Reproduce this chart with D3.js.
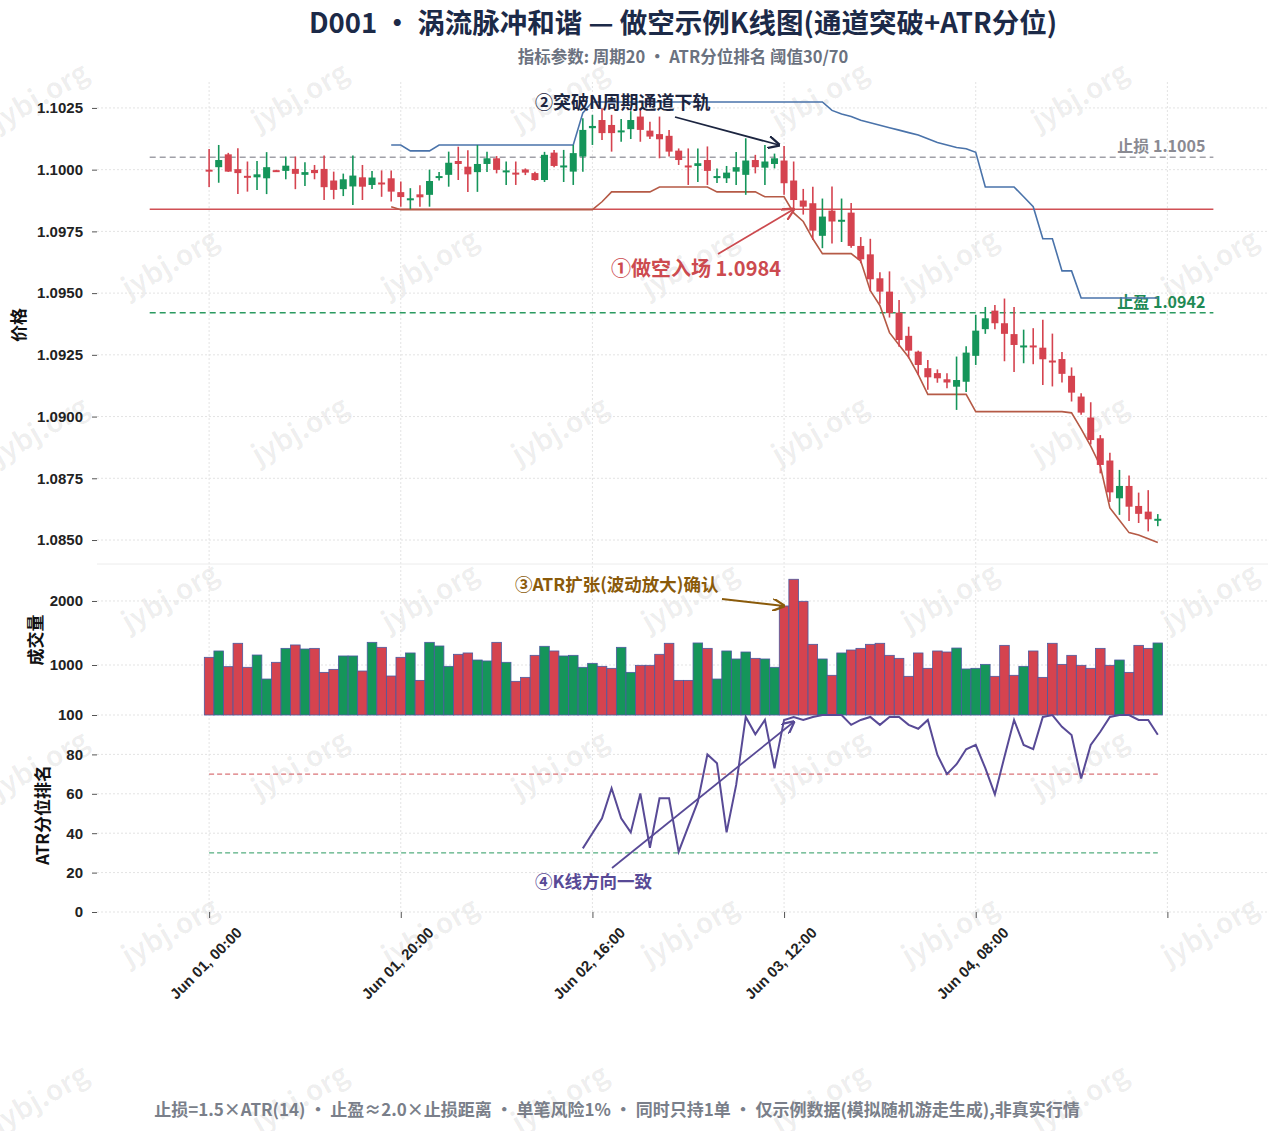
<!DOCTYPE html>
<html><head><meta charset="utf-8">
<script src="https://cdn.jsdelivr.net/npm/d3@7"></script>
<style>body{margin:0;background:#fff}svg{font-family:"Noto Sans CJK SC","Noto Sans",sans-serif}</style>
</head><body><svg id="c" width="1278" height="1131"></svg>
<script>
const opens=[1.10000,1.10010,1.10062,1.10002,1.09975,1.09969,1.09965,1.09998,1.09995,1.10003,1.09979,1.09999,1.10003,1.09956,1.09921,1.09932,1.09969,1.09938,1.09948,1.09965,1.09909,1.09880,1.09900,1.09898,1.09970,1.09979,1.10035,1.10012,1.09990,1.10023,1.10046,1.09993,1.09988,1.10001,1.09986,1.09958,1.10069,1.10013,1.09992,1.10053,1.10168,1.10201,1.10181,1.10155,1.10164,1.10215,1.10158,1.10144,1.10137,1.10077,1.10017,1.10015,1.10039,1.09970,1.09965,1.09992,1.09979,1.10039,1.10008,1.10023,1.10037,1.09956,1.09875,1.09864,1.09732,1.09834,1.09793,1.09826,1.09691,1.09657,1.09560,1.09506,1.09421,1.09327,1.09263,1.09196,1.09176,1.09151,1.09121,1.09141,1.09246,1.09354,1.09429,1.09378,1.09334,1.09284,1.09288,1.09279,1.09227,1.09233,1.09165,1.09081,1.08996,1.08912,1.08822,1.08669,1.08719,1.08638,1.08615,1.08582];
const highs=[1.10084,1.10100,1.10068,1.10087,1.10033,1.10035,1.10071,1.10000,1.10053,1.10053,1.10030,1.10019,1.10057,1.09992,1.09984,1.10057,1.10019,1.09995,1.09997,1.09997,1.09952,1.09925,1.09937,1.10000,1.09990,1.10073,1.10093,1.10079,1.10100,1.10073,1.10055,1.10033,1.10033,1.10005,1.09992,1.10072,1.10080,1.10080,1.10100,1.10208,1.10222,1.10249,1.10222,1.10205,1.10237,1.10249,1.10194,1.10215,1.10161,1.10086,1.10086,1.10086,1.10094,1.10005,1.10015,1.10072,1.10127,1.10060,1.10100,1.10065,1.10096,1.10033,1.09922,1.09931,1.09883,1.09932,1.09883,1.09865,1.09727,1.09720,1.09584,1.09588,1.09472,1.09364,1.09267,1.09229,1.09191,1.09175,1.09243,1.09285,1.09412,1.09444,1.09452,1.09478,1.09444,1.09352,1.09358,1.09392,1.09336,1.09262,1.09199,1.09094,1.09058,1.08925,1.08853,1.08784,1.08761,1.08692,1.08702,1.08605];
const lows=[1.09930,1.09947,1.09991,1.09901,1.09911,1.09918,1.09901,1.09993,1.09961,1.09921,1.09934,1.09961,1.09877,1.09880,1.09893,1.09857,1.09877,1.09922,1.09890,1.09871,1.09850,1.09840,1.09850,1.09850,1.09956,1.09931,1.09958,1.09910,1.09910,1.09991,1.09985,1.09938,1.09938,1.09978,1.09955,1.09950,1.10010,1.09950,1.09938,1.09992,1.10100,1.10120,1.10073,1.10113,1.10124,1.10113,1.10124,1.10046,1.10053,1.10019,1.09938,1.09950,1.09938,1.09946,1.09946,1.09938,1.09898,1.09985,1.09938,1.10005,1.09898,1.09837,1.09818,1.09715,1.09682,1.09701,1.09707,1.09684,1.09621,1.09508,1.09457,1.09401,1.09283,1.09236,1.09168,1.09109,1.09137,1.09115,1.09027,1.09100,1.09209,1.09335,1.09354,1.09224,1.09180,1.09216,1.09212,1.09128,1.09122,1.09138,1.09061,1.09007,1.08887,1.08770,1.08654,1.08602,1.08577,1.08569,1.08535,1.08556];
const closes=[1.09996,1.10039,1.09992,1.09986,1.09970,1.09981,1.10010,1.09995,1.10016,1.09983,1.09990,1.09986,1.09929,1.09918,1.09961,1.09976,1.09931,1.09968,1.09945,1.09911,1.09889,1.09884,1.09888,1.09954,1.09974,1.10028,1.10023,1.09981,1.10023,1.10046,1.09999,1.09997,1.09982,1.09988,1.09958,1.10060,1.10015,1.10017,1.10067,1.10161,1.10177,1.10148,1.10148,1.10159,1.10201,1.10161,1.10134,1.10123,1.10073,1.10039,1.10012,1.10026,1.09995,1.09974,1.09988,1.10010,1.10037,1.10010,1.10033,1.10046,1.09945,1.09877,1.09850,1.09753,1.09810,1.09790,1.09797,1.09691,1.09637,1.09556,1.09506,1.09419,1.09310,1.09267,1.09209,1.09159,1.09155,1.09138,1.09148,1.09259,1.09348,1.09398,1.09378,1.09335,1.09290,1.09288,1.09283,1.09232,1.09222,1.09173,1.09097,1.09016,1.08905,1.08804,1.08693,1.08719,1.08635,1.08606,1.08584,1.08586];
const volumes=[1120,1219,974,1339,964,1156,781,1042,1260,1313,1250,1260,885,932,1141,1141,906,1354,1276,828,1120,1188,760,1354,1297,979,1167,1188,1078,1063,1354,1042,745,807,1151,1292,1219,1141,1151,964,1026,979,948,1276,885,995,995,1167,1339,760,760,1344,1260,781,1219,1094,1203,1104,1094,964,1922,2339,1995,1323,1094,839,1188,1234,1260,1323,1339,1151,1104,823,1188,948,1219,1203,1265,938,948,1010,823,1307,839,979,1219,807,1339,1010,1151,995,948,1260,995,1078,885,1307,1260,1344];
const atrRank=[null,null,null,null,null,null,null,null,null,null,null,null,null,null,null,null,null,null,null,null,null,null,null,null,null,null,null,null,null,null,null,null,null,null,null,null,null,null,null,32.3,40,47.6,62.8,47.6,40.4,60.2,32.6,57.7,57.7,30.6,43.3,56,80,75.5,40.4,64.5,99,90.2,97.5,73,97.5,99,97.5,99,100,100,100,95,97.5,99,95,99,99,95,93,97.5,79.7,70,75,82.6,84.8,73,59.7,78.8,97.5,84.8,82.7,99,100,94,89.8,67.8,84.8,91.5,99,100,100,97.5,97.5,90];
const chanUpper=[null,null,null,null,null,null,null,null,null,null,null,null,null,null,null,null,null,null,null,1.10100,1.10100,1.10076,1.10076,1.10076,1.10100,1.10100,1.10100,1.10100,1.10100,1.10100,1.10100,1.10100,1.10100,1.10100,1.10100,1.10100,1.10100,1.10100,1.10100,1.10230,1.10274,1.10274,1.10274,1.10274,1.10274,1.10274,1.10274,1.10274,1.10274,1.10274,1.10274,1.10274,1.10274,1.10274,1.10274,1.10274,1.10274,1.10274,1.10274,1.10274,1.10274,1.10274,1.10274,1.10274,1.10274,1.10240,1.10225,1.10215,1.10200,1.10190,1.10180,1.10170,1.10160,1.10150,1.10140,1.10125,1.10110,1.10100,1.10090,1.10085,1.10070,1.09930,1.09930,1.09930,1.09930,1.09890,1.09850,1.09720,1.09720,1.09590,1.09590,1.09480,1.09480,1.09480,1.09480,1.09480,1.09480,1.09480,1.09480,1.09480];
const chanLower=[null,null,null,null,null,null,null,null,null,null,null,null,null,null,null,null,null,null,null,1.09850,1.09838,1.09838,1.09838,1.09838,1.09838,1.09838,1.09838,1.09838,1.09838,1.09838,1.09838,1.09838,1.09838,1.09838,1.09838,1.09838,1.09838,1.09838,1.09838,1.09838,1.09838,1.09870,1.09910,1.09910,1.09910,1.09910,1.09910,1.09930,1.09930,1.09930,1.09930,1.09930,1.09930,1.09910,1.09910,1.09910,1.09910,1.09910,1.09890,1.09890,1.09890,1.09825,1.09790,1.09720,1.09660,1.09660,1.09660,1.09660,1.09630,1.09510,1.09450,1.09340,1.09290,1.09240,1.09170,1.09090,1.09090,1.09090,1.09090,1.09090,1.09020,1.09020,1.09020,1.09020,1.09020,1.09020,1.09020,1.09020,1.09020,1.09020,1.09015,1.08950,1.08880,1.08800,1.08630,1.08580,1.08530,1.08520,1.08505,1.08490];
const priceTicks=[1.0850,1.0875,1.0900,1.0925,1.0950,1.0975,1.1000,1.1025];
const volTicks=[1000,2000];
const atrTicks=[0,20,40,60,80,100];
const entryPrice=1.0984, stopPrice=1.1005, targetPrice=1.0942;

const H=3600e3, t0=Date.UTC(2024,5,1,0,0);
const times=opens.map((_,i)=>new Date(t0+i*H));
const svg=d3.select("#c");
const RED="#d5434f", GREEN="#15955a", GRID="#e3e3e3";
const x=d3.scaleUtc().domain([new Date(t0-11.7*H),new Date(t0+110.5*H)]).range([97,1268]);
const yP=d3.scaleLinear().domain([1.08411,1.10355]).range([562,82]);
const yV=d3.scaleLinear().domain([219,2562]).range([715,565]);
const yA=d3.scaleLinear().domain([0,100]).range([912,715]);
const xTicks=d3.range(0,101,20).map(h=>new Date(t0+h*H));

// watermark
const wm=svg.append("g");
for(let r=0;r<7;r++)for(let k=0;k<5;k++){const cx=45+260*k+(r%2?130:0),cy=105+167*r;
 wm.append("text").attr("transform",`translate(${cx},${cy}) rotate(-30)`).attr("text-anchor","middle").attr("font-size",28).attr("font-weight",700).attr("fill","rgba(0,0,0,0.065)").text("jybj.org");}

// grids
const g=svg.append("g");
xTicks.forEach(t=>g.append("line").attr("x1",x(t)).attr("x2",x(t)).attr("y1",82).attr("y2",912).attr("stroke",GRID).attr("stroke-dasharray","2,2"));
priceTicks.forEach(v=>g.append("line").attr("x1",97).attr("x2",1268).attr("y1",yP(v)).attr("y2",yP(v)).attr("stroke",GRID).attr("stroke-dasharray","2,2"));
volTicks.forEach(v=>g.append("line").attr("x1",97).attr("x2",1268).attr("y1",yV(v)).attr("y2",yV(v)).attr("stroke",GRID).attr("stroke-dasharray","2,2"));
atrTicks.forEach(v=>g.append("line").attr("x1",97).attr("x2",1268).attr("y1",yA(v)).attr("y2",yA(v)).attr("stroke",GRID).attr("stroke-dasharray","2,2"));
g.append("line").attr("x1",97).attr("x2",1268).attr("y1",564).attr("y2",564).attr("stroke","#ececec");

// axes
const axStyle=s=>{s.select(".domain").remove();s.selectAll("text").attr("font-size",15).attr("font-weight",700).attr("fill","#222");s.selectAll(".tick line").attr("stroke","#555");};
svg.append("g").attr("transform","translate(97,0)").call(d3.axisLeft(yP).tickValues(priceTicks).tickFormat(d3.format(".4f")).tickSize(5).tickPadding(9)).call(axStyle);
svg.append("g").attr("transform","translate(97,0)").call(d3.axisLeft(yV).tickValues(volTicks).tickFormat(d3.format("d")).tickSize(5).tickPadding(9)).call(axStyle);
svg.append("g").attr("transform","translate(97,0)").call(d3.axisLeft(yA).tickValues(atrTicks).tickSize(5).tickPadding(9)).call(axStyle);
const xa=svg.append("g").attr("transform","translate(0,912)").call(d3.axisBottom(x).tickValues(xTicks).tickSize(6).tickFormat((d,i)=>i<5?d3.utcFormat("%b %d, %H:%M")(d):"")).call(axStyle);
xa.selectAll("text").attr("text-anchor","middle").attr("y",0).attr("dy",0).attr("transform","translate(0,55) rotate(-45)");

// panel labels
const lab=(t,cx,cy)=>svg.append("text").attr("transform",`translate(${cx},${cy}) rotate(-90)`).attr("text-anchor","middle").attr("font-size",17).attr("font-weight",700).attr("fill","#111").text(t);
lab("价格",25,325);lab("成交量",42,640);lab("ATR分位排名",49,815);

// reference lines
const xs=x(new Date(t0-6.2*H)), xe=x(new Date(t0+104.8*H));
svg.append("line").attr("x1",xs).attr("x2",xe).attr("y1",yP(stopPrice)).attr("y2",yP(stopPrice)).attr("stroke","#a0a0a8").attr("stroke-width",1.5).attr("stroke-dasharray","6,4");
svg.append("line").attr("x1",xs).attr("x2",xe).attr("y1",yP(targetPrice)).attr("y2",yP(targetPrice)).attr("stroke","#2a9a60").attr("stroke-width",1.5).attr("stroke-dasharray","6,4");
svg.append("line").attr("x1",xs).attr("x2",xe).attr("y1",yP(entryPrice)).attr("y2",yP(entryPrice)).attr("stroke","#d05055").attr("stroke-width",1.5);
svg.append("text").attr("x",xe-8).attr("y",yP(stopPrice)-5).attr("text-anchor","end").attr("font-size",16).attr("font-weight",700).attr("fill","#8a8a92").text("止损 "+stopPrice.toFixed(4));
svg.append("text").attr("x",xe-8).attr("y",yP(targetPrice)-5).attr("text-anchor","end").attr("font-size",16).attr("font-weight",700).attr("fill","#1f8a55").text("止盈 "+targetPrice.toFixed(4));

// channels
const ln=(arr,sc)=>d3.line().defined(d=>d!=null).x((d,i)=>x(times[i])).y(d=>sc(d));
svg.append("path").attr("d",ln(chanUpper,yP)(chanUpper)).attr("fill","none").attr("stroke","#4a73aa").attr("stroke-width",1.6);
svg.append("path").attr("d",ln(chanLower,yP)(chanLower)).attr("fill","none").attr("stroke","#b55a46").attr("stroke-width",1.6);

// candles
const cg=svg.append("g");
opens.forEach((o,i)=>{const c=closes[i],col=c>=o?GREEN:RED,cx=x(times[i]);
 cg.append("line").attr("x1",cx).attr("x2",cx).attr("y1",yP(highs[i])).attr("y2",yP(lows[i])).attr("stroke",col).attr("stroke-width",1.6);
 const y1=yP(Math.max(o,c)),y2=yP(Math.min(o,c));
 cg.append("rect").attr("x",cx-3.5).attr("width",7).attr("y",y1).attr("height",Math.max(2,y2-y1)).attr("fill",col);});

// volume
const bw=x(times[1])-x(times[0]);
volumes.forEach((v,i)=>{const col=closes[i]>=opens[i]?GREEN:RED;
 svg.append("rect").attr("x",x(times[i])-bw/2).attr("width",bw).attr("y",yV(v)).attr("height",yV.range()[0]-yV(v)).attr("fill",col).attr("stroke","#4b5aa0").attr("stroke-width",0.8);});

// atr thresholds
svg.append("line").attr("x1",x(times[0])).attr("x2",x(times[99])).attr("y1",yA(70)).attr("y2",yA(70)).attr("stroke","#d05055").attr("stroke-dasharray","5,3");
svg.append("line").attr("x1",x(times[0])).attr("x2",x(times[99])).attr("y1",yA(30)).attr("y2",yA(30)).attr("stroke","#2a9a60").attr("stroke-dasharray","5,3");
svg.append("path").attr("d",ln(atrRank,yA)(atrRank)).attr("fill","none").attr("stroke","#584a96").attr("stroke-width",2);

// annotations
const defs=svg.append("defs");
const arrow=(id,col,x1,y1,x2,y2,w)=>{defs.append("marker").attr("id",id).attr("viewBox","0 0 10 10").attr("refX",9).attr("refY",5).attr("markerWidth",7).attr("markerHeight",7).attr("orient","auto").append("path").attr("d","M0,0 L10,5 L0,10").attr("fill","none").attr("stroke",col).attr("stroke-width",1.8);
 svg.append("line").attr("x1",x1).attr("y1",y1).attr("x2",x2).attr("y2",y2).attr("stroke",col).attr("stroke-width",w||1.8).attr("marker-end",`url(#${id})`);};
const txt=(t,x0,y0,col,fs)=>svg.append("text").attr("x",x0).attr("y",y0).attr("font-size",fs).attr("font-weight",700).attr("fill",col).text(t);
arrow("a1","#cc4a4f",718,254,x(times[61]),yP(entryPrice));
txt("①做空入场 1.0984",611,276,"#cc4a4f",20);
arrow("a2","#1c2540",675,117,x(times[60])-5,145);
txt("②突破N周期通道下轨",535,109,"#1c2540",18);
arrow("a3","#8a5a0a",722,599,x(times[60]),606);
txt("③ATR扩张(波动放大)确认",515,591,"#8a5a0a",17.5);
arrow("a4","#584a96",612,868,x(times[61]),722);
txt("④K线方向一致",535,888,"#584a96",17.5);

// titles
svg.append("text").attr("x",683).attr("y",33).attr("text-anchor","middle").attr("font-size",27.5).attr("font-weight",700).attr("fill","#1c2a48").text("D001 · 涡流脉冲和谐 — 做空示例K线图(通道突破+ATR分位)");
svg.append("text").attr("x",683).attr("y",63).attr("text-anchor","middle").attr("font-size",16.5).attr("font-weight",700).attr("fill","#6b7280").text("指标参数: 周期20 · ATR分位排名 阈值30/70");
svg.append("text").attr("x",617).attr("y",1116).attr("text-anchor","middle").attr("font-size",17).attr("font-weight",700).attr("fill","#7a7f8a").text("止损=1.5×ATR(14) · 止盈≈2.0×止损距离 · 单笔风险1% · 同时只持1单 · 仅示例数据(模拟随机游走生成),非真实行情");
</script></body></html>
